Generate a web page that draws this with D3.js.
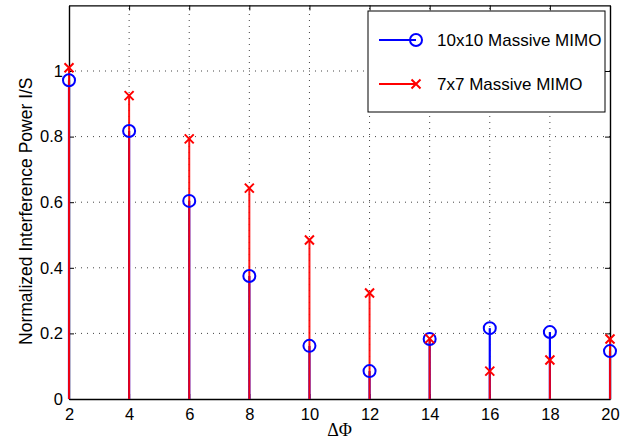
<!DOCTYPE html>
<html>
<head>
<meta charset="utf-8">
<script src="https://cdn.jsdelivr.net/npm/d3@7/dist/d3.min.js"></script>
<style>
  html, body { margin: 0; padding: 0; background: #fff; }
  svg { display: block; font-family: "Liberation Sans", Arial, Helvetica, sans-serif; }
</style>
</head>
<body>
<svg id="chart" width="630" height="441"></svg>
<script>
// Angular separation values (x axis)
const deltaPhi = [2, 4, 6, 8, 10, 12, 14, 16, 18, 20];
// Normalized interference power I/S for each array size
const mimo10x10 = [0.972, 0.817, 0.604, 0.375, 0.162, 0.085, 0.183, 0.216, 0.204, 0.146];
const mimo7x7   = [1.010, 0.925, 0.793, 0.643, 0.485, 0.323, 0.184, 0.085, 0.119, 0.183];
const seriesNames = ["10x10 Massive MIMO", "7x7 Massive MIMO"];
const xTicks = [2, 4, 6, 8, 10, 12, 14, 16, 18, 20];
const yTicks = [0, 0.2, 0.4, 0.6, 0.8, 1];

const svg = d3.select("#chart");
const margin = { left: 69, right: 20, top: 5.4, bottom: 42 };
const W = 630, H = 441;

const x = d3.scaleLinear().domain([2, 20]).range([margin.left, W - margin.right]);
const y = d3.scaleLinear().domain([0, 1.2]).range([H - margin.bottom, margin.top]);

const x0 = x.range()[0], x1 = x.range()[1];
const y0 = y.range()[0], y1 = y.range()[1];

// dotted grid
const grid = svg.append("g");
grid.selectAll("line.gx").data(xTicks.slice(1, -1)).join("line")
  .attr("x1", d => x(d)).attr("x2", d => x(d))
  .attr("y1", y0).attr("y2", y1)
  .attr("stroke", "#444").attr("stroke-width", 1)
  .attr("stroke-dasharray", "1,5");
grid.selectAll("line.gy").data(yTicks.slice(1)).join("line")
  .attr("x1", x0).attr("x2", x1)
  .attr("y1", d => y(d)).attr("y2", d => y(d))
  .attr("stroke", "#444").attr("stroke-width", 1)
  .attr("stroke-dasharray", "1,5");

// axes: bottom & left with labels, top & right mirrored, ticks pointing inward
const fmt = d => d3.format("~g")(d);
const axB = svg.append("g").attr("transform", `translate(0,${y0})`)
  .call(d3.axisBottom(x).tickValues(xTicks).tickFormat(fmt).tickSizeInner(-5).tickSizeOuter(0).tickPadding(9));
const axT = svg.append("g").attr("transform", `translate(0,${y1})`)
  .call(d3.axisTop(x).tickValues(xTicks).tickFormat("").tickSizeInner(-5).tickSizeOuter(0));
const axL = svg.append("g").attr("transform", `translate(${x0},0)`)
  .call(d3.axisLeft(y).tickValues(yTicks).tickFormat(fmt).tickSizeInner(-5).tickSizeOuter(0).tickPadding(6));
const axR = svg.append("g").attr("transform", `translate(${x1},0)`)
  .call(d3.axisRight(y).tickValues(yTicks).tickFormat("").tickSizeInner(-5).tickSizeOuter(0));
[axB, axT, axL, axR].forEach(a => {
  a.select(".domain").attr("stroke", "#000").attr("stroke-width", 1.4);
  a.selectAll(".tick line").attr("stroke", "#000").attr("stroke-width", 1);
  a.selectAll("text").attr("fill", "#000").style("font-size", "16.5px")
    .style("font-family", "'Liberation Sans', Arial, sans-serif");
});
axB.selectAll("text").attr("dy", "0.71em");

// stems and markers
const data = deltaPhi.map((d, i) => ({ x: d, a: mimo10x10[i], b: mimo7x7[i] }));
const plot = svg.append("g");

plot.selectAll("line.stemA").data(data).join("line")
  .attr("x1", d => x(d.x)).attr("x2", d => x(d.x))
  .attr("y1", y(0)).attr("y2", d => y(d.a))
  .attr("stroke", "#0000ff").attr("stroke-width", 2.2);
plot.selectAll("line.stemB").data(data).join("line")
  .attr("x1", d => x(d.x)).attr("x2", d => x(d.x))
  .attr("y1", y(0)).attr("y2", d => y(d.b))
  .attr("stroke", "#ff0000").attr("stroke-width", 2).attr("stroke-opacity", 0.92);

plot.selectAll("circle").data(data).join("circle")
  .attr("cx", d => x(d.x)).attr("cy", d => y(d.a)).attr("r", 6)
  .attr("fill", "none").attr("stroke", "#0000ff").attr("stroke-width", 2);

const cross = (g, cx, cy, s) => {
  g.append("path")
    .attr("d", `M${cx - s},${cy - s}L${cx + s},${cy + s}M${cx - s},${cy + s}L${cx + s},${cy - s}`)
    .attr("stroke", "#ff0000").attr("stroke-width", 2).attr("fill", "none");
};
data.forEach(d => cross(plot, x(d.x), y(d.b), 4.5));

// axis titles
svg.append("text")
  .attr("transform", `translate(32,${(y0 + y1) / 2 + 9}) rotate(-90)`)
  .attr("text-anchor", "middle")
  .style("font-size", "17.5px").attr("fill", "#000")
  .text("Normalized Interference Power I/S");
svg.append("text")
  .attr("x", (x0 + x1) / 2).attr("y", 436)
  .attr("text-anchor", "middle")
  .style("font-family", "'Liberation Serif', 'Times New Roman', serif")
  .style("font-size", "18px").attr("fill", "#000")
  .text("ΔΦ");

// legend
const lg = svg.append("g").attr("transform", "translate(368,11)");
lg.append("rect").attr("width", 237).attr("height", 101)
  .attr("fill", "#fff").attr("stroke", "#000").attr("stroke-width", 1);
const rows = [
  { name: seriesNames[0], color: "#0000ff", mark: "circle", yy: 29 },
  { name: seriesNames[1], color: "#ff0000", mark: "cross", yy: 73 }
];
rows.forEach(r => {
  lg.append("line").attr("x1", 11).attr("x2", 48).attr("y1", r.yy).attr("y2", r.yy)
    .attr("stroke", r.color).attr("stroke-width", 2);
  if (r.mark === "circle") {
    lg.append("circle").attr("cx", 48).attr("cy", r.yy).attr("r", 6)
      .attr("fill", "none").attr("stroke", r.color).attr("stroke-width", 2);
  } else {
    cross(lg, 48, r.yy, 4.5);
  }
  lg.append("text").attr("x", 69).attr("y", r.yy + 6)
    .style("font-size", "17px").attr("fill", "#000").text(r.name);
});
</script>
</body>
</html>
